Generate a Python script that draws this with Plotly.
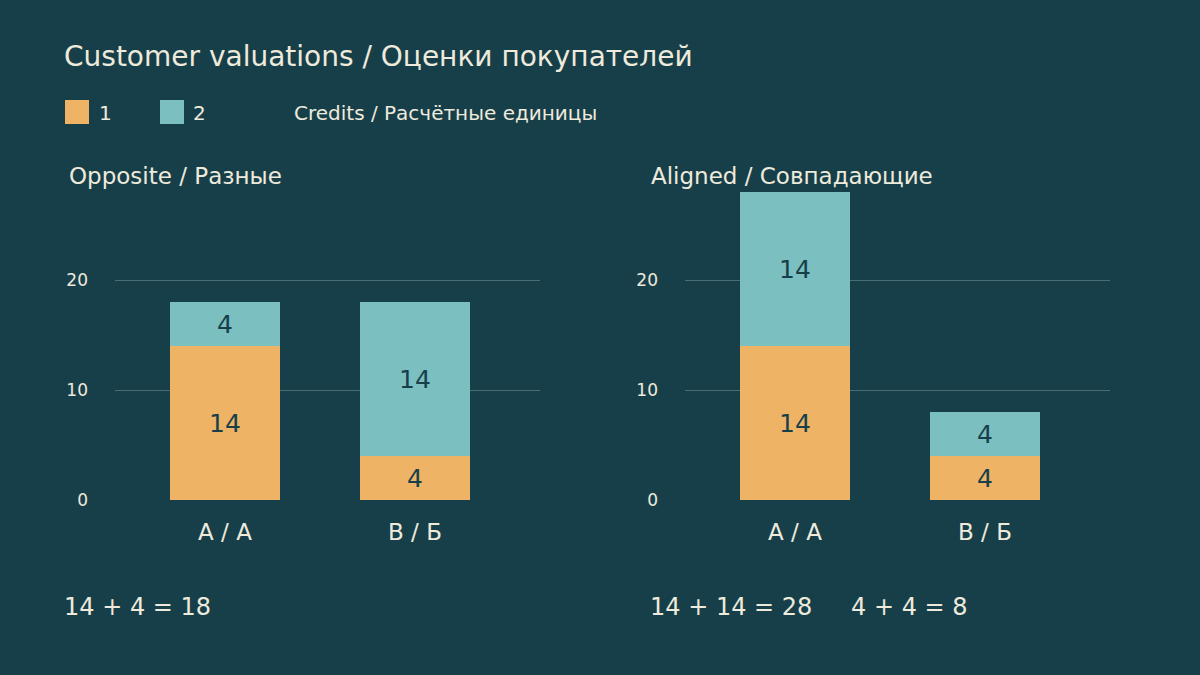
import plotly.graph_objects as go
from plotly.subplots import make_subplots

# data
categories = ["A / А", "B / Б"]
series_names = ["1", "2"]
opposite_1 = [14, 4]
opposite_2 = [4, 14]
aligned_1 = [14, 4]
aligned_2 = [14, 4]

title = "Customer valuations / Оценки покупателей"
unit_label = "Credits / Расчётные единицы"
panel_titles = ["Opposite / Разные", "Aligned / Совпадающие"]
y_ticks = [0, 10, 20]

BG = "#173f4a"
FG = "#eeeadc"
C1 = "#efb366"
C2 = "#7bbfc1"
GRID = "#4a6d74"
FONT = "DejaVu Sans"

W, H = 1200, 675
H_VIEW = 665  # visible page height the browser lays the figure out in


def px(x):
    return x / W


def py(y):
    return 1 - y / H_VIEW


fig = make_subplots(rows=1, cols=2)

panels = [(opposite_1, opposite_2), (aligned_1, aligned_2)]
for i, (s1, s2) in enumerate(panels, start=1):
    for vals, name, col in [(s1, series_names[0], C1), (s2, series_names[1], C2)]:
        fig.add_trace(go.Bar(x=categories, y=vals, name=name, marker_color=col,
                             marker_line_width=0, text=vals, textposition="inside",
                             insidetextanchor="middle", textangle=0,
                             textfont=dict(color=BG, size=25, family=FONT),
                             showlegend=False), row=1, col=i)

axis_common = dict(showline=False, zeroline=False, ticks="")
fig.update_xaxes(**axis_common, showgrid=False, tickfont=dict(size=23, color=FG, family=FONT),
                 range=[-0.579, 1.658], ticklabelstandoff=16)
fig.update_yaxes(**axis_common, showgrid=True, gridcolor=GRID, gridwidth=1,
                 tickvals=y_ticks, range=[0, 28], tickfont=dict(size=17, color=FG, family=FONT),
                 ticklabelstandoff=26)
fig.update_layout(
    xaxis=dict(domain=[px(115), px(540)]),
    xaxis2=dict(domain=[px(685), px(1110)]),
    yaxis=dict(domain=[py(500), py(192)]),
    yaxis2=dict(domain=[py(500), py(192)]),
)

annotations = []


def note(text, x, y, size, color=FG):
    annotations.append(dict(text=text, x=px(x), y=py(y), xref="paper", yref="paper",
                            xanchor="left", yanchor="middle", showarrow=False,
                            font=dict(size=size, color=color, family=FONT)))


note(title, 62, 56, 28)
note(panel_titles[0], 67, 176, 23)
note(panel_titles[1], 649, 176, 23)
note(series_names[0], 97, 113, 20)
note(series_names[1], 191, 113, 20)
note(unit_label, 292, 113, 20)


def eq(a, b):
    return f"{a} + {b} = {a + b}"


note(eq(opposite_1[0], opposite_2[0]), 62, 607, 24)
note(eq(aligned_1[0], aligned_2[0]), 648, 607, 24)
note(eq(aligned_1[1], aligned_2[1]), 849, 607, 24)

shapes = []
for x0, col in [(65, C1), (160, C2)]:
    shapes.append(dict(type="rect", xref="paper", yref="paper", x0=px(x0), x1=px(x0 + 24),
                       y0=py(124), y1=py(100), fillcolor=col, line_width=0))

fig.update_layout(
    width=W, height=H, autosize=False, barmode="stack", bargap=0.416,
    paper_bgcolor=BG, plot_bgcolor=BG,
    margin=dict(l=0, r=0, t=0, b=0),
    font=dict(family=FONT, color=FG),
    annotations=annotations, shapes=shapes,
    uniformtext=dict(minsize=22, mode="show"),
)

fig.write_html("out.html", config={"responsive": False, "displayModeBar": False},
               post_script="document.body.style.margin='0';"
                           "document.body.style.background='" + BG + "';")
